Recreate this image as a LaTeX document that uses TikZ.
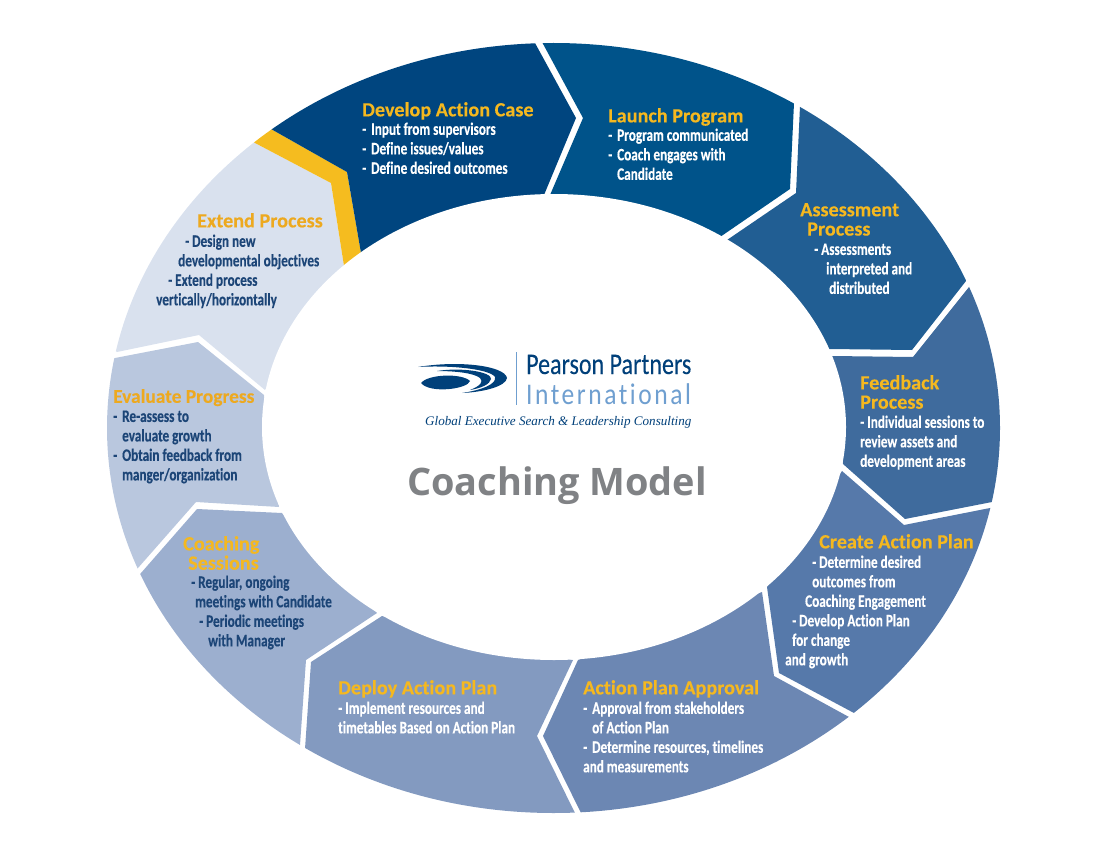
\documentclass[tikz,border=0pt]{standalone}
\usepackage{fontspec}
\setmainfont{Carlito}
\newfontfamily\headfont[Ligatures=CommonOff,BoldFeatures={FakeBold=0.15}]{Carlito}
\newfontfamily\bodyfont[FakeStretch=0.755,Ligatures=CommonOff,BoldFeatures={FakeBold=0.3}]{Carlito}
\newfontfamily\logofont[FakeStretch=0.80,FakeBold=0.15,Ligatures=CommonOff]{Carlito}
\newfontfamily\logowide[FakeStretch=0.85,LetterSpace=8.5,Ligatures=CommonOff]{Carlito}
\newfontfamily\tagfont{Liberation Serif}
\newfontfamily\modelfont{Open Sans}
\definecolor{caseblue}{HTML}{00457F}
\definecolor{launchblue}{HTML}{00538A}
\definecolor{assessblue}{HTML}{215E93}
\definecolor{feedblue}{HTML}{3F6B9D}
\definecolor{createblue}{HTML}{5679AA}
\definecolor{approvalblue}{HTML}{6C87B3}
\definecolor{deployblue}{HTML}{839AC0}
\definecolor{sessionblue}{HTML}{9CAFCF}
\definecolor{evalblue}{HTML}{B9C7DE}
\definecolor{extendblue}{HTML}{D9E1EE}
\definecolor{stripgold}{HTML}{F5BC1F}
\definecolor{titlegold}{HTML}{F5B81F}
\definecolor{titleorange}{HTML}{EDA91F}
\definecolor{darktext}{HTML}{1C4577}
\definecolor{logoblue}{HTML}{00407A}
\definecolor{logolight}{HTML}{6F9FD0}
\definecolor{modelgrey}{HTML}{808285}
\tikzset{
	titletxt/.style={anchor=north west,inner sep=0pt,align=left,yshift=14pt,text=titlegold,
		font=\headfont\bfseries\fontsize{20.2}{19.3}\selectfont,execute at begin node=\strut},
	bodytxt/.style={anchor=north west,inner sep=0pt,align=left,yshift=14.65pt,text=white,
		font=\bodyfont\bfseries\fontsize{17.5}{19.5}\selectfont,execute at begin node=\strut},
	darktxt/.style={bodytxt,text=darktext},
	logotxt/.style={anchor=base west,inner sep=0pt}
}
\begin{document}
\begin{tikzpicture}[x=1pt,y=-1pt]
	\useasboundingbox (0,0) rectangle (1108,856);
	
	\begin{scope}
		\clip (553.5,428) ellipse [x radius=446.5,y radius=385];
		\fill[extendblue] (117,352) -- (199,335) -- (265,390) -- (344,266) -- (331,183) -- (255,143) -- (150,60) -- (40,300) -- cycle;
		\fill[stripgold] (344,266) -- (331,183) -- (255,143) -- (230,129) -- (280,70) -- (271,129) -- (347,172) -- (361,253) -- cycle;
		\fill[caseblue] (271,129) -- (347,172) -- (361,253) -- (544,195) -- (576,118) -- (535,43) -- (515,6) -- (240,10) -- (230,106) -- cycle;
		\fill[launchblue] (542,42) -- (583,118) -- (550,195) -- (720,237) -- (790,189) -- (794,103) -- (796,60) -- (700,0) -- (522,5) -- cycle;
		\fill[assessblue] (800,106) -- (796,193) -- (727,240) -- (829,349) -- (912,350) -- (966,281) -- (1000,237) -- (960,100) -- (802,63) -- cycle;
		\fill[feedblue] (969,287) -- (913,357) -- (832,356) -- (843,464) -- (905,519) -- (992,502) -- (1035,494) -- (1060,380) -- (1005,243) -- cycle;
		\fill[createblue] (990,508) -- (904,525) -- (842,471) -- (767,587) -- (779,673) -- (854,713) -- (891,733) -- (1010,640) -- (1033,500) -- cycle;
		\fill[approvalblue] (849,717) -- (774,676) -- (762,592) -- (578,660) -- (543,736) -- (581,813) -- (600,851) -- (800,850) -- (886,737) -- cycle;
		\fill[deployblue] (573,660) -- (537,736) -- (575,813) -- (594,851) -- (300,830) -- (302,792) -- (305,749) -- (311,662) -- (382,616) -- cycle;
		\fill[sessionblue] (282,513) -- (197,509) -- (141,573) -- (108,610) -- (150,760) -- (298,788) -- (300,745) -- (306,660) -- (377,613) -- cycle;
		\fill[evalblue] (115,358) -- (198,342) -- (264,395) -- (279,507) -- (196,502) -- (138,568) -- (105,605) -- (60,450) -- (74,366) -- cycle;
	\end{scope}
	\fill[white] (554,427) ellipse [x radius=292,y radius=233];
	
	% labels round the ring
	\node[titletxt] (tcase) at (362,116) {Develop Action Case};
	\node[bodytxt] (bcase) at (362,137) {-\hspace*{2pt} Input from supervisors\\-\hspace*{2pt} Define issues/values\\-\hspace*{2pt} Define desired outcomes};
	\node[titletxt] (tlaunch) at (608,122) {Launch Program};
	\node[bodytxt] (blaunch) at (608,143) {-\hspace*{2pt} Program communicated\\-\hspace*{2pt} Coach engages with\\\hspace*{9pt}Candidate};
	\node[titletxt] (tassess) at (800,217) {Assessment\\\hspace*{7pt}Process};
	\node[bodytxt] (bassess) at (814,258) {- Assessments\\\hspace*{12pt}interpreted and\\\hspace*{15pt}distributed};
	\node[titletxt] (tfeed) at (860,389) {Feedback\\Process};
	\node[bodytxt] (bfeed) at (860,430) {- Individual sessions to\\review assets and\\development areas};
	\node[titletxt] (tcreate) at (819,548) {Create Action Plan};
	\node[bodytxt] (bcreate) at (785,570) {\hspace*{27pt}- Determine desired\\\hspace*{27pt}outcomes from\\\hspace*{20pt}Coaching Engagement\\\hspace*{7pt}- Develop Action Plan\\\hspace*{7pt}for change\\and growth};
	\node[titletxt] (tapproval) at (583,694) {Action Plan Approval};
	\node[bodytxt] (bapproval) at (583,716) {-\hspace*{2pt} Approval from stakeholders\\\hspace*{9pt}of Action Plan\\-\hspace*{2pt} Determine resources, timelines\\and measurements};
	\node[titletxt] (tdeploy) at (338,694) {Deploy Action Plan};
	\node[bodytxt] (bdeploy) at (338,716) {- Implement resources and\\timetables Based on Action Plan};
	\node[titletxt] (tsession) at (183,550) {Coaching\\\hspace*{5pt}Sessions};
	\node[darktxt] (bsession) at (191,590) {- Regular, ongoing\\\hspace*{4pt}meetings with Candidate\\\hspace*{8pt}- Periodic meetings\\\hspace*{17pt}with Manager};
	\node[titletxt,text=titleorange,font=\headfont\bfseries\fontsize{19.4}{19.3}\selectfont] (teval) at (113,403) {Evaluate Progress};
	\node[darktxt] (beval) at (113,425) {-\hspace*{2pt} Re-assess to\\\hspace*{9pt}evaluate growth\\-\hspace*{2pt} Obtain feedback from\\\hspace*{9pt}manger/organization};
	\node[titletxt,text=titleorange] (textend) at (197,227) {Extend Process};
	\node[darktxt] (bextend) at (156,249) {\hspace*{29pt}- Design new\\\hspace*{22pt}developmental objectives\\\hspace*{12pt}- Extend process\\vertically/horizontally};
	
	% logo
	\fill[logoblue] (421,383) .. controls (428,374) and (462,373) .. (470,381) .. controls (468,389) and (430,394) .. (421,383) -- cycle;
	\fill[logoblue] (437,371) .. controls (462,367) and (492,372) .. (491,379) .. controls (490,384) and (482,388) .. (470,390) .. controls (480,386) and (484,382) .. (480,378) .. controls (474,373) and (455,371) .. (437,371) -- cycle;
	\fill[logoblue] (418,367) .. controls (460,360) and (505,366) .. (507,378) .. controls (506,386) and (485,392) .. (462,393) .. controls (482,390) and (497,384) .. (495,377) .. controls (490,369) and (450,365) .. (418,367) -- cycle;
	\coordinate (ltop) at (516,352);
	\coordinate (lbot) at (516,405);
	\draw[logolight,line width=0.8pt] (ltop) -- (lbot);
	\node[logotxt,text=logoblue,font=\logofont\fontsize{30}{30}\selectfont] (lpearson) at (526,374) {Pearson Partners};
	\node[logotxt,text=logolight,font=\logowide\fontsize{30}{30}\selectfont] (linter) at (526,404) {International};
	\node[logotxt,text=logoblue,font=\tagfont\itshape\fontsize{13.1}{14}\selectfont] (ltag) at (425,425) {Global Executive Search \& Leadership Consulting};
	\node[logotxt,text=modelgrey,font=\modelfont\bfseries\fontsize{37.9}{40}\selectfont] (lmodel) at (407,495) {Coaching Model};
\end{tikzpicture}
\end{document}
